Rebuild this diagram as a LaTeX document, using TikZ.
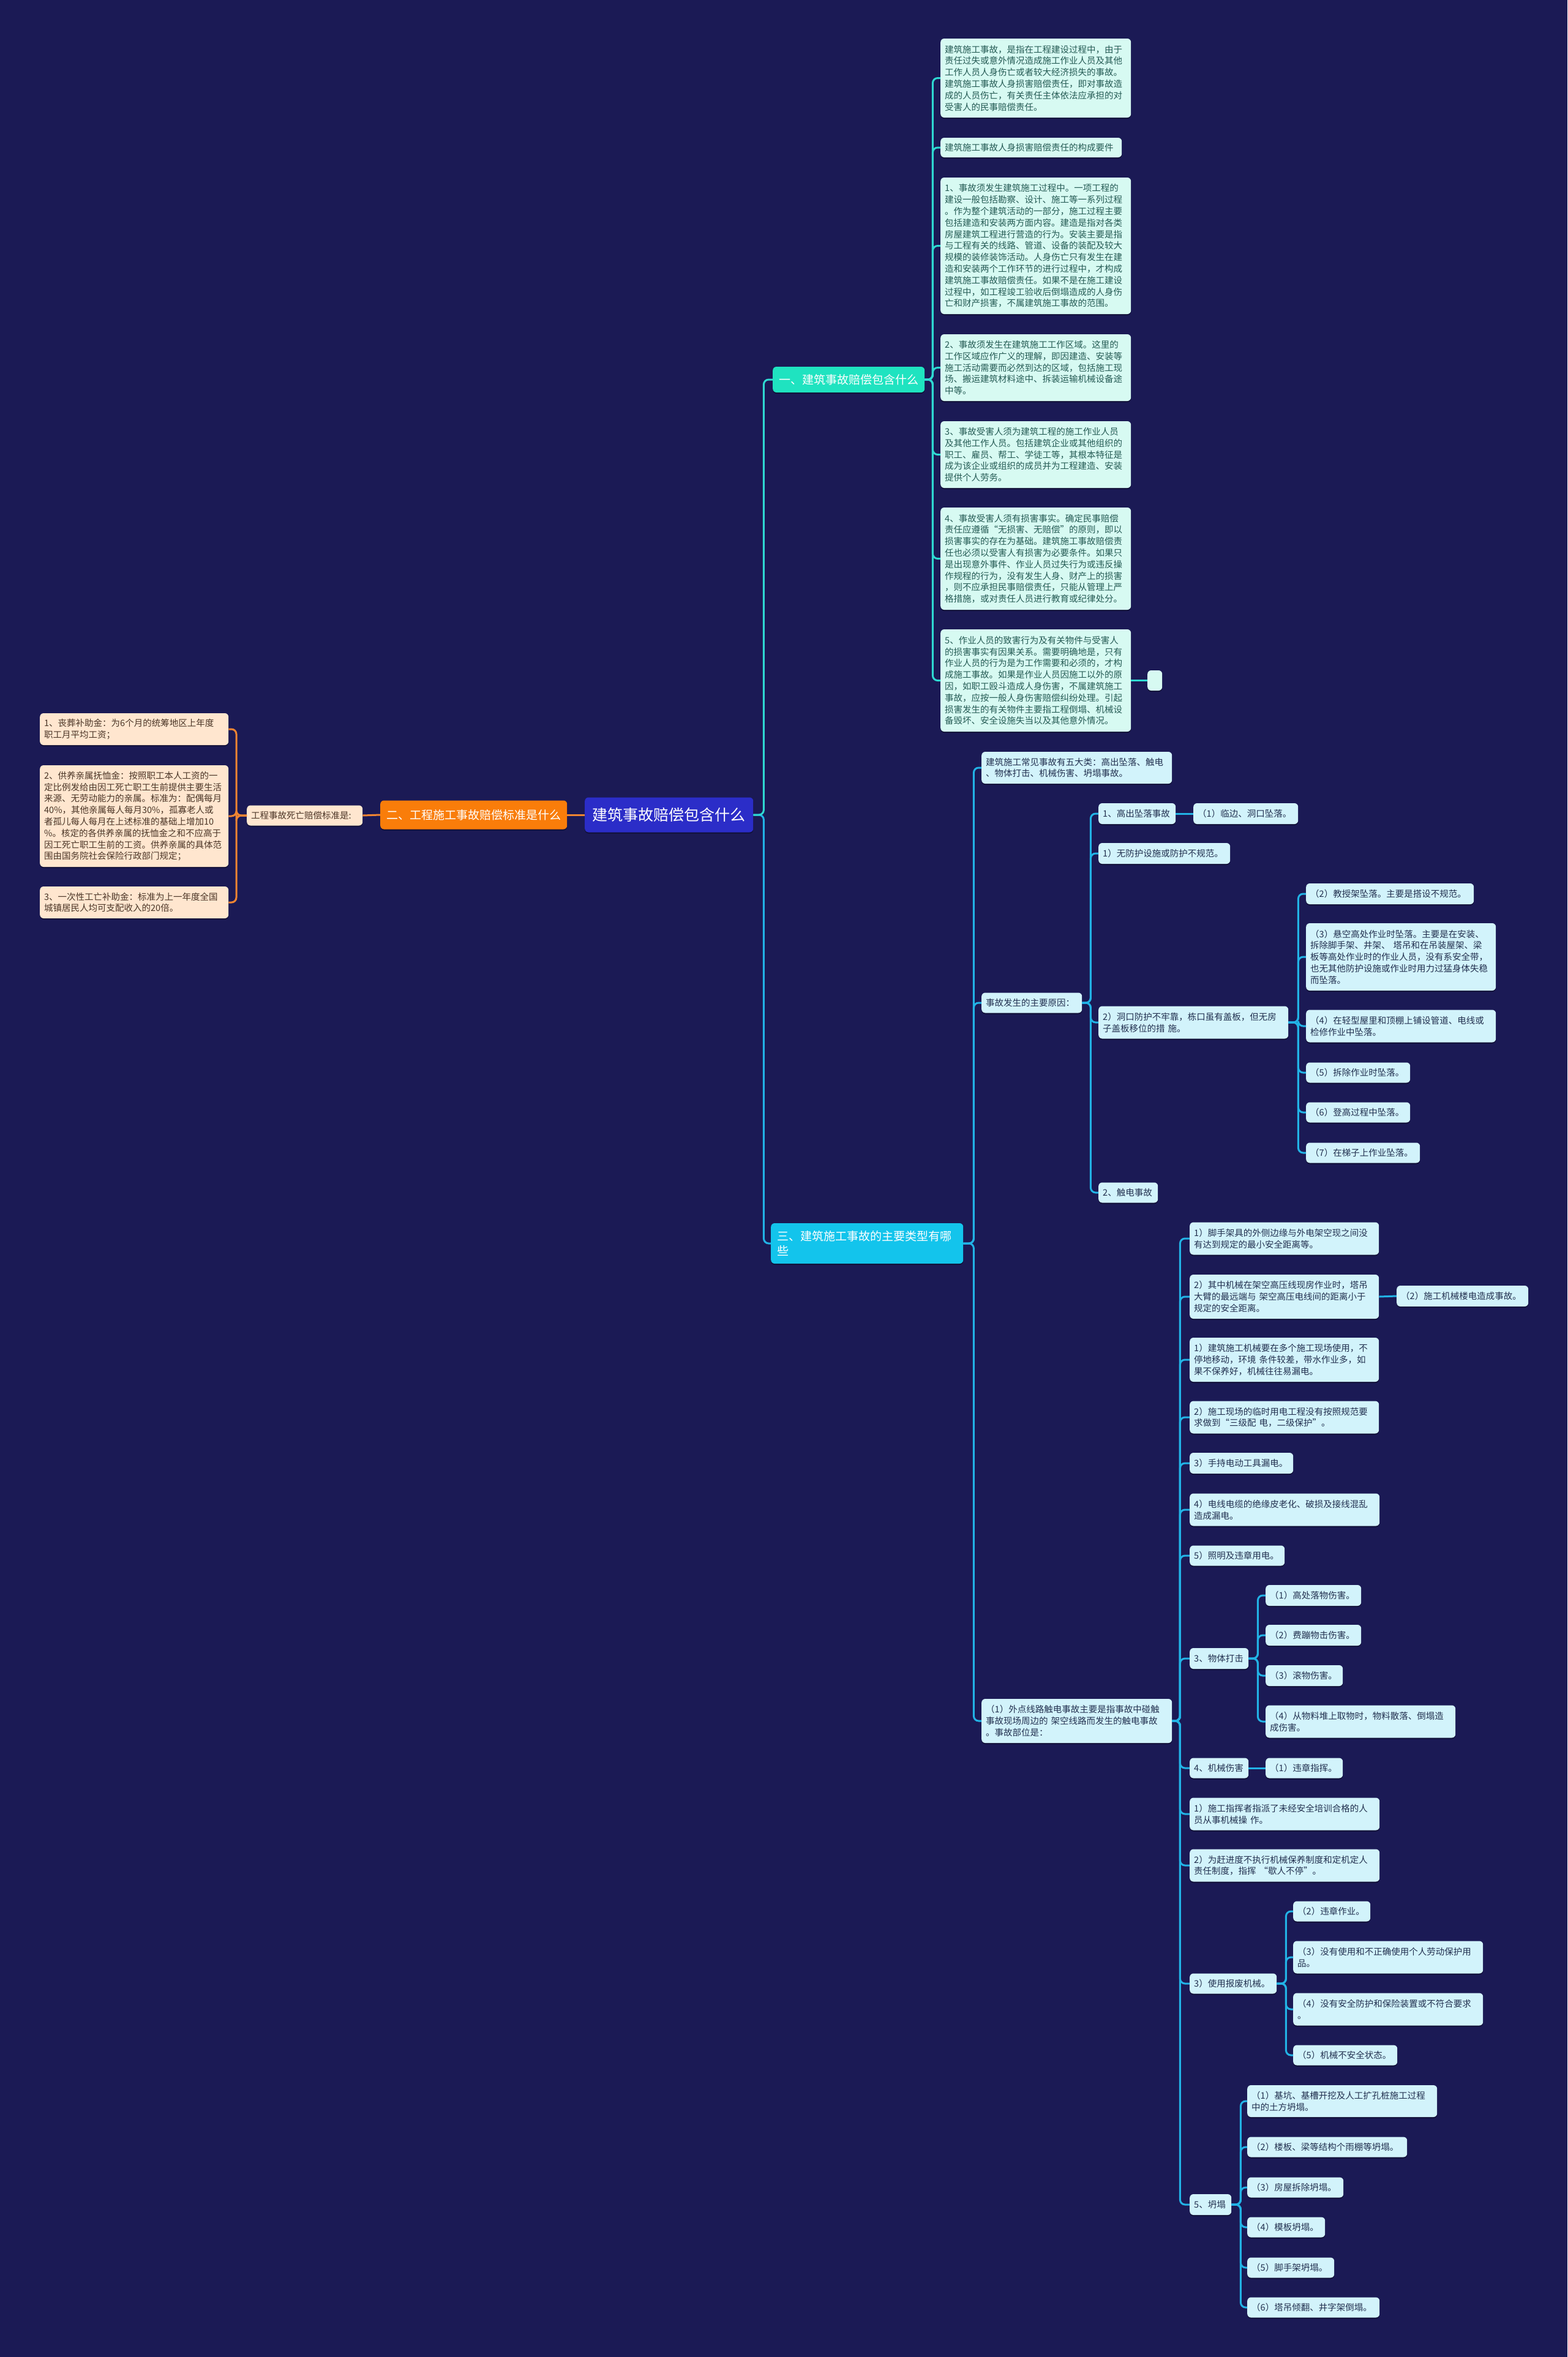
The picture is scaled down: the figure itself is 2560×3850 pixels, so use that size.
\documentclass[tikz,border=0pt]{standalone}
\usepackage{fontspec}
\setmainfont{Noto Sans CJK SC}
\usetikzlibrary{shadows}
\definecolor{bgc}{HTML}{1B1A55}
\definecolor{rootc}{HTML}{2B2DC8}
\definecolor{b1c}{HTML}{1FE3C0}
\definecolor{b2c}{HTML}{F97D0A}
\definecolor{b3c}{HTML}{13C4EC}
\definecolor{ln1c}{HTML}{2FD9D2}
\definecolor{ln2c}{HTML}{EF8532}
\definecolor{ln3c}{HTML}{22B3E6}
\definecolor{f1c}{HTML}{D7FAF2}
\definecolor{f2c}{HTML}{FFE6CF}
\definecolor{f3c}{HTML}{D2F3FB}
\definecolor{t1c}{HTML}{245A54}
\definecolor{t2c}{HTML}{4A3526}
\definecolor{t3c}{HTML}{22304F}
\begin{document}
\begin{tikzpicture}[x=1pt,y=-1pt,
  box/.style={rounded corners=6pt,inner xsep=7pt,inner ysep=0pt,anchor=west,align=left,
    drop shadow={shadow xshift=0pt,shadow yshift=-2pt,opacity=.35,fill=black}},
  wh/.style 2 args={text width=#1pt,minimum height=#2pt},
  sm/.style={font=\fontsize{14.5}{18.8}\selectfont},
  k1/.style={box,sm,fill=f1c,text=t1c},
  k2/.style={box,sm,fill=f2c,text=t2c},
  k3/.style={box,sm,fill=f3c,text=t3c},
  br/.style={box,inner xsep=10pt,text=white,font=\fontsize{19}{24}\selectfont},
  ln1/.style={draw=ln1c,line width=3pt,rounded corners=8pt},
  ln2/.style={draw=ln2c,line width=3pt,rounded corners=8pt},
  ln3/.style={draw=ln3c,line width=3pt,rounded corners=8pt}]
  \useasboundingbox (0,0) rectangle (2560,3850);
  \fill[bgc] (0,0) rectangle (2560,3850);

  \node[box,align=center,inner xsep=12.5pt,minimum height=57pt,fill=rootc,text=white,
    font=\fontsize{25}{30}\selectfont] (root) at (955,1331) {建筑事故赔偿包含什么};
  \node[br,fill=b1c,minimum height=42pt] (b1) at (1262,620) {一、建筑事故赔偿包含什么};
  \node[br,fill=b2c,minimum height=47pt] (b2) at (621,1331) {二、工程施工事故赔偿标准是什么};
  \node[br,fill=b3c,wh={294}{66}] (b3) at (1259,2031) {三、建筑施工事故的主要类型有哪\\些};

  \node[k1,wh={297}{129}] (ta) at (1536,127.5) {建筑施工事故，是指在工程建设过程中，由于\\责任过失或意外情况造成施工作业人员及其他\\工作人员人身伤亡或者较大经济损失的事故。\\建筑施工事故人身损害赔偿责任，即对事故造\\成的人员伤亡，有关责任主体依法应承担的对\\受害人的民事赔偿责任。};
  \node[k1,wh={282}{32}] (tb) at (1536,241) {建筑施工事故人身损害赔偿责任的构成要件};
  \node[k1,wh={297}{223}] (tc) at (1536,401.5) {1、事故须发生建筑施工过程中。一项工程的\\建设一般包括勘察、设计、施工等一系列过程\\。作为整个建筑活动的一部分，施工过程主要\\包括建造和安装两方面内容。建造是指对各类\\房屋建筑工程进行营造的行为。安装主要是指\\与工程有关的线路、管道、设备的装配及较大\\规模的装修装饰活动。人身伤亡只有发生在建\\造和安装两个工作环节的进行过程中，才构成\\建筑施工事故赔偿责任。如果不是在施工建设\\过程中，如工程竣工验收后倒塌造成的人身伤\\亡和财产损害，不属建筑施工事故的范围。};
  \node[k1,wh={297}{109}] (td) at (1536,600.5) {2、事故须发生在建筑施工工作区域。这里的\\工作区域应作广义的理解，即因建造、安装等\\施工活动需要而必然到达的区域，包括施工现\\场、搬运建筑材料途中、拆装运输机械设备途\\中等。};
  \node[k1,wh={297}{109}] (te) at (1536,742.5) {3、事故受害人须为建筑工程的施工作业人员\\及其他工作人员。包括建筑企业或其他组织的\\职工、雇员、帮工、学徒工等，其根本特征是\\成为该企业或组织的成员并为工程建造、安装\\提供个人劳务。};
  \node[k1,wh={297}{167}] (tf) at (1536,912.5) {4、事故受害人须有损害事实。确定民事赔偿\\责任应遵循“无损害、无赔偿”的原则，即以\\损害事实的存在为基础。建筑施工事故赔偿责\\任也必须以受害人有损害为必要条件。如果只\\是出现意外事件、作业人员过失行为或违反操\\作规程的行为，没有发生人身、财产上的损害\\，则不应承担民事赔偿责任，只能从管理上严\\格措施，或对责任人员进行教育或纪律处分。};
  \node[k1,wh={297}{167}] (tg) at (1536,1111.5) {5、作业人员的致害行为及有关物件与受害人\\的损害事实有因果关系。需要明确地是，只有\\作业人员的行为是为工作需要和必须的，才构\\成施工事故。如果是作业人员因施工以外的原\\因，如职工殴斗造成人身伤害，不属建筑施工\\事故，应按一般人身伤害赔偿纠纷处理。引起\\损害发生的有关物件主要指工程倒塌、机械设\\备毁坏、安全设施失当以及其他意外情况。};
  \node[k1,wh={10}{33}] (t0) at (1874,1111.5) {};

  \node[k2,wh={175}{33}] (n) at (403,1332) {工程事故死亡赔偿标准是:};
  \node[k2,wh={294}{52}] (la) at (65,1191) {1、丧葬补助金：为6个月的统筹地区上年度\\职工月平均工资；};
  \node[k2,wh={294}{166}] (lb) at (65,1333) {2、供养亲属抚恤金：按照职工本人工资的一\\定比例发给由因工死亡职工生前提供主要生活\\来源、无劳动能力的亲属。标准为：配偶每月\\40\%，其他亲属每人每月30\%，孤寡老人或\\者孤儿每人每月在上述标准的基础上增加10\\\%。核定的各供养亲属的抚恤金之和不应高于\\因工死亡职工生前的工资。供养亲属的具体范\\围由国务院社会保险行政部门规定；};
  \node[k2,wh={294}{52}] (lc) at (65,1474) {3、一次性工亡补助金：标准为上一年度全国\\城镇居民人均可支配收入的20倍。};

  \node[k3,wh={297}{52}] (a1) at (1603,1254) {建筑施工常见事故有五大类：高出坠落、触电\\、物体打击、机械伤害、坍塌事故。};
  \node[k3,wh={150}{33}] (a2) at (1603,1638) {事故发生的主要原因：};
  \node[k3,wh={297}{72}] (a3) at (1603,2811) {（1）外点线路触电事故主要是指事故中碰触\\事故现场周边的~架空线路而发生的触电事故\\。事故部位是：};

  \node[k3,wh={112}{34}] (p1) at (1794,1329) {1、高出坠落事故};
  \node[k3,wh={157}{34}] (p1c) at (1949,1329) {（1）临边、洞口坠落。};
  \node[k3,wh={201}{34}] (p2) at (1794,1394) {1）无防护设施或防护不规范。};
  \node[k3,wh={296}{53}] (p3) at (1794,1670) {2）洞口防护不牢靠，栋口虽有盖板，但无房\\子盖板移位的措~施。};
  \node[k3,wh={83}{33}] (p4) at (1794,1948) {2、触电事故};

  \node[k3,wh={260}{34}] (q1) at (2133,1460) {（2）教授架坠落。主要是搭设不规范。};
  \node[k3,wh={296}{110}] (q2) at (2133,1563) {（3）悬空高处作业时坠落。主要是在安装、\\拆除脚手架、井架、~塔吊和在吊装屋架、梁\\板等高处作业时的作业人员，没有系安全带，\\也无其他防护设施或作业时用力过猛身体失稳\\而坠落。};
  \node[k3,wh={296}{53}] (q3) at (2133,1676) {（4）在轻型屋里和顶棚上铺设管道、电线或\\检修作业中坠落。};
  \node[k3,wh={156}{33}] (q4) at (2133,1752) {（5）拆除作业时坠落。};
  \node[k3,wh={156}{33}] (q5) at (2133,1817) {（6）登高过程中坠落。};
  \node[k3,wh={172}{33}] (q6) at (2133,1883) {（7）在梯子上作业坠落。};

  \node[k3,wh={295}{53}] (d1) at (1943,2023) {1）脚手架具的外侧边缘与外电架空现之间没\\有达到规定的最小安全距离等。};
  \node[k3,wh={295}{72}] (d2) at (1943,2118) {2）其中机械在架空高压线现房作业时，塔吊\\大臂的最远端与~架空高压电线间的距离小于\\规定的安全距离。};
  \node[k3,wh={201}{34}] (d2c) at (2281,2117) {（2）施工机械楼电造成事故。};
  \node[k3,wh={295}{72}] (d3) at (1943,2221) {1）建筑施工机械要在多个施工现场使用，不\\停地移动，环境~条件较差，带水作业多，如\\果不保养好，机械往往易漏电。};
  \node[k3,wh={295}{53}] (d4) at (1943,2315) {2）施工现场的临时用电工程没有按照规范要\\求做到“三级配~电，二级保护”。};
  \node[k3,wh={155}{34}] (d5) at (1943,2390) {3）手持电动工具漏电。};
  \node[k3,wh={296}{53}] (d6) at (1943,2466) {4）电线电缆的绝缘皮老化、破损及接线混乱\\造成漏电。};
  \node[k3,wh={141}{33}] (d7) at (1943,2541) {5）照明及违章用电。};
  \node[k3,wh={82}{34}] (d8) at (1943,2709) {3、物体打击};
  \node[k3,wh={82}{33}] (d9) at (1943,2888) {4、机械伤害};
  \node[k3,wh={296}{53}] (d10) at (1943,2963) {1）施工指挥者指派了未经安全培训合格的人\\员从事机械操~作。};
  \node[k3,wh={296}{53}] (d11) at (1943,3047) {2）为赶进度不执行机械保养制度和定机定人\\责任制度，指挥~“歇人不停”。};
  \node[k3,wh={128}{33}] (d12) at (1943,3240) {3）使用报废机械。};
  \node[k3,wh={54}{34}] (d13) at (1943,3601) {5、坍塌};

  \node[k3,wh={142}{34}] (e1) at (2067,2606) {（1）高处落物伤害。};
  \node[k3,wh={142}{34}] (e2) at (2067,2671) {（2）费蹦物击伤害。};
  \node[k3,wh={112}{34}] (e3) at (2067,2737) {（3）滚物伤害。};
  \node[k3,wh={296}{53}] (e4) at (2067,2812) {（4）从物料堆上取物时，物料散落、倒塌造\\成伤害。};
  \node[k3,wh={112}{33}] (d9c) at (2067,2888) {（1）违章指挥。};

  \node[k3,wh={112}{33}] (f1) at (2112,3122) {（2）违章作业。};
  \node[k3,wh={296}{53}] (f2) at (2112,3197) {（3）没有使用和不正确使用个人劳动保护用\\品。};
  \node[k3,wh={296}{53}] (f3) at (2112,3282) {（4）没有安全防护和保险装置或不符合要求\\。};
  \node[k3,wh={156}{33}] (f4) at (2112,3357) {（5）机械不安全状态。};

  \node[k3,wh={296}{52}] (g1) at (2037,3432) {（1）基坑、基槽开挖及人工扩孔桩施工过程\\中的土方坍塌。};
  \node[k3,wh={247}{33}] (g2) at (2037,3507) {（2）楼板、梁等结构个雨棚等坍塌。};
  \node[k3,wh={143}{33}] (g3) at (2037,3573) {（3）房屋拆除坍塌。};
  \node[k3,wh={113}{33}] (g4) at (2037,3638) {（4）模板坍塌。};
  \node[k3,wh={128}{33}] (g5) at (2037,3704) {（5）脚手架坍塌。};
  \node[k3,wh={202}{33}] (g6) at (2037,3769) {（6）塔吊倾翻、井字架倒塌。};

  \draw[ln3] (root.east) -- ++(17,0) |- (b3.west);
  \draw[ln1] (root.east) -- ++(17,0) |- (b1.west);
  \draw[ln2] (root.west) -- (b2.east);
  \draw[ln2] (b2.west) -- (n.east);
  \foreach \c in {la,lb,lc} \draw[ln2] (n.west) -- ++(-17,0) |- (\c.east);
  \foreach \c in {ta,tb,tc,td,te,tf,tg} \draw[ln1] (b1.east) -- ++(13,0) |- (\c.west);
  \draw[ln1] (tg.east) -- (t0.west);
  \foreach \c in {a1,a2,a3} \draw[ln3] (b3.east) -- ++(17,0) |- (\c.west);
  \foreach \c in {p1,p2,p3,p4} \draw[ln3] (a2.east) -- ++(14,0) |- (\c.west);
  \draw[ln3] (p1.east) -- (p1c.west);
  \foreach \c in {q1,q2,q3,q4,q5,q6} \draw[ln3] (p3.east) -- ++(16,0) |- (\c.west);
  \foreach \c in {d1,d2,d3,d4,d5,d6,d7,d8,d9,d10,d11,d12,d13} \draw[ln3] (a3.east) -- ++(13,0) |- (\c.west);
  \draw[ln3] (d2.east) -- (d2c.west);
  \foreach \c in {e1,e2,e3,e4} \draw[ln3] (d8.east) -- ++(15,0) |- (\c.west);
  \draw[ln3] (d9.east) -- (d9c.west);
  \foreach \c in {f1,f2,f3,f4} \draw[ln3] (d12.east) -- ++(15,0) |- (\c.west);
  \foreach \c in {g1,g2,g3,g4,g5,g6} \draw[ln3] (d13.east) -- ++(15,0) |- (\c.west);
\end{tikzpicture}
\end{document}
